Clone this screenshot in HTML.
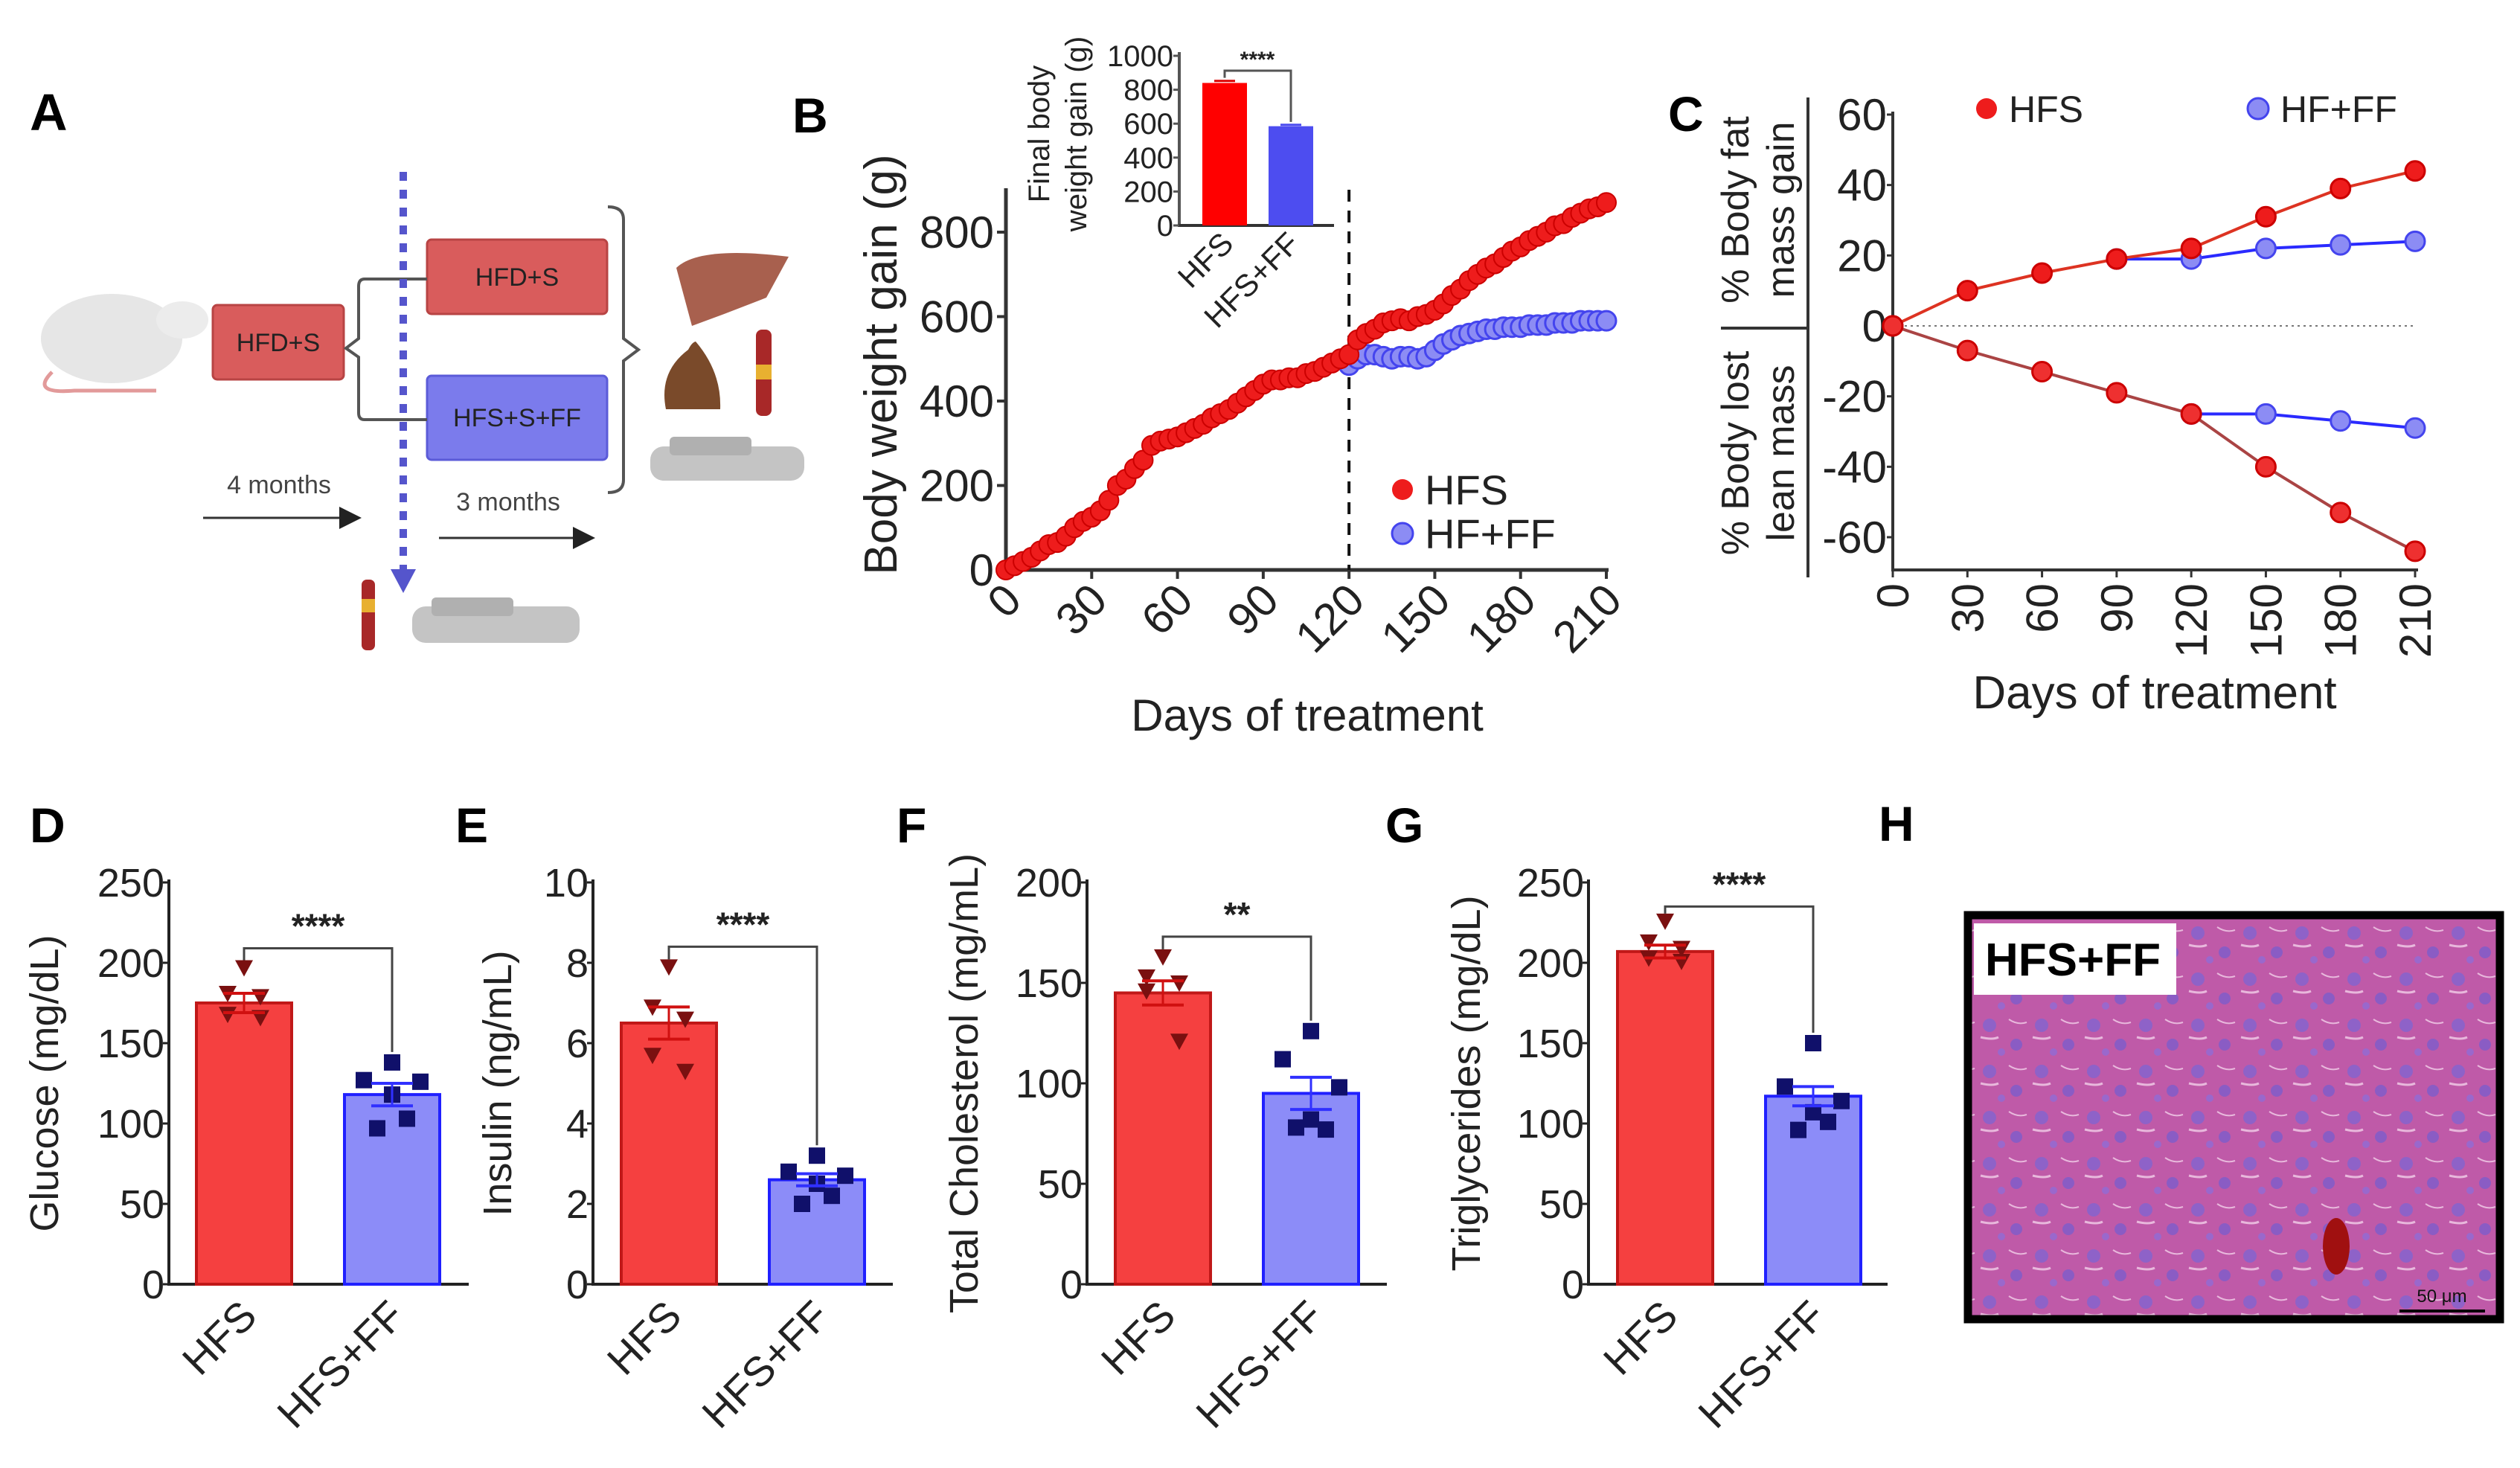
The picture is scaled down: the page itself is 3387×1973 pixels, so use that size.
<!DOCTYPE html>
<html><head><meta charset="utf-8"><style>
html,body{margin:0;padding:0;background:#fff;}
svg{display:block;font-family:"Liberation Sans",Arial,sans-serif;}
</style></head><body>
<svg id="fig" width="3387" height="1973" viewBox="0 0 3387 1973" xmlns="http://www.w3.org/2000/svg">
<defs>
<pattern id="histo" width="70" height="62" patternUnits="userSpaceOnUse">
<rect width="70" height="62" fill="#bf5aa8"/>
<circle cx="14" cy="14" r="9" fill="#8e62c8"/>
<circle cx="50" cy="40" r="8" fill="#8a5cc4"/>
<circle cx="30" cy="50" r="5" fill="#9a68cc"/>
<path d="M2 30 Q18 34 26 30" stroke="#e8b8dc" stroke-width="3" fill="none"/>
<path d="M40 6 Q52 14 64 10" stroke="#e8b8dc" stroke-width="2" fill="none"/>
</pattern>
<marker id="arr" markerWidth="10" markerHeight="10" refX="8" refY="5" orient="auto"><path d="M0 0 L10 5 L0 10z" fill="#222"/></marker>
</defs>

<!-- Panel A schematic -->
<g>
<text x="40" y="175" font-size="70" font-weight="bold">A</text>
<g>
<ellipse cx="150" cy="455" rx="95" ry="60" fill="#e6e6e6"/>
<ellipse cx="245" cy="430" rx="35" ry="25" fill="#ececec"/>
<path d="M70 500 Q40 530 100 525 L210 525" stroke="#e29a9a" stroke-width="5" fill="none"/>
</g>
<rect x="286" y="410" width="176" height="100" rx="6" fill="#d95c5c" stroke="#b84444" stroke-width="3"/>
<text x="374" y="472" font-size="34" text-anchor="middle" fill="#222">HFD+S</text>
<rect x="574" y="322" width="242" height="100" rx="6" fill="#d95c5c" stroke="#b84444" stroke-width="3"/>
<text x="695" y="384" font-size="34" text-anchor="middle" fill="#222">HFD+S</text>
<rect x="574" y="505" width="242" height="113" rx="6" fill="#7b7bec" stroke="#5b5bd8" stroke-width="3"/>
<text x="695" y="573" font-size="34" text-anchor="middle" fill="#222">HFS+S+FF</text>
<path d="M574 375 L490 375 Q482 375 482 385 L482 455 L465 468 L482 480 L482 555 Q482 564 490 564 L574 564" stroke="#555" stroke-width="4" fill="none"/>
<path d="M817 278 Q838 278 838 295 L838 455 L858 470 L838 485 L838 645 Q838 662 817 662" stroke="#555" stroke-width="4" fill="none"/>
<line x1="542" y1="231" x2="542" y2="770" stroke="#5555cc" stroke-width="10" stroke-dasharray="12 12"/>
<path d="M525 765 L559 765 L542 797z" fill="#5555cc"/>
<text x="375" y="663" font-size="34" text-anchor="middle" fill="#444">4 months</text>
<line x1="273" y1="696" x2="480" y2="696" stroke="#333" stroke-width="3" marker-end="url(#arr)"/>
<text x="683" y="686" font-size="34" text-anchor="middle" fill="#444">3 months</text>
<line x1="590" y1="723" x2="794" y2="723" stroke="#333" stroke-width="3" marker-end="url(#arr)"/>
<path d="M909 360 Q940 330 1060 345 L1030 400 Q980 420 930 438z" fill="#a8604e"/>
<path d="M895 550 Q885 500 925 470 Q930 460 935 459 Q970 500 968 550z" fill="#7a4a2a"/>
<rect x="1016" y="443" width="21" height="116" rx="8" fill="#a82828"/>
<rect x="1016" y="490" width="21" height="20" fill="#e8b030"/>
<rect x="874" y="600" width="207" height="46" rx="18" fill="#c4c4c4"/>
<rect x="900" y="587" width="110" height="25" rx="6" fill="#b0b0b0"/>
<rect x="486" y="779" width="18" height="95" rx="7" fill="#a82828"/>
<rect x="486" y="805" width="18" height="18" fill="#e8b030"/>
<rect x="554" y="815" width="225" height="49" rx="18" fill="#c4c4c4"/>
<rect x="580" y="803" width="110" height="25" rx="6" fill="#b0b0b0"/>
</g>

<g id="pB"></g>
<g id="pC"></g>
<g id="pD"></g>
<g id="pE"></g>
<g id="pF"></g>
<g id="pG"></g>

<!-- Panel H -->
<g>
<text x="2525" y="1130" font-size="66" font-weight="bold">H</text>
<rect x="2645" y="1230" width="715" height="543" fill="url(#histo)" stroke="#000" stroke-width="11"/>
<ellipse cx="3140" cy="1675" rx="18" ry="38" fill="#a01010"/>
<rect x="2653" y="1241" width="272" height="96" fill="#fff"/>
<text x="2668" y="1311" font-size="62" font-weight="bold">HFS+FF</text>
<line x1="3225" y1="1762" x2="3340" y2="1762" stroke="#000" stroke-width="4"/>
<text x="3282" y="1750" font-size="24" text-anchor="middle" fill="#111">50 μm</text>
</g>
</svg>

<script>
// ---------- Panel B data ----------
const bDays = [0,3,6,9,12,15,18,21,24,27,30,33,36,39,42,45,48,51,54,57,60,63,66,69,72,75,78,81,84,87,90,93,96,99,102,105,108,111,114,117,120,123,126,129,132,135,138,141,144,147,150,153,156,159,162,165,168,171,174,177,180,183,186,189,192,195,198,201,204,207,210];
const bHFS = [0,10,20,30,45,60,65,80,100,115,125,140,165,200,215,240,260,295,305,310,315,325,335,345,360,370,380,395,410,425,440,450,450,455,455,465,470,480,490,500,510,545,560,570,585,590,595,590,600,605,615,630,650,665,685,700,715,725,740,755,765,780,790,800,815,820,835,845,855,860,870];
const bFFDays = [120,123,126,129,132,135,138,141,144,147,150,153,156,159,162,165,168,171,174,177,180,183,186,189,192,195,198,201,204,207,210];
const bFF = [485,500,510,510,505,500,505,505,500,505,520,535,545,555,560,565,570,570,575,575,575,580,580,580,585,585,585,590,590,590,590];
const bYTicks = [0,200,400,600,800];
const bXTicks = [0,30,60,90,120,150,180,210];
const insetCats = ['HFS','HFS+FF'];
const insetVals = [840,585];
const insetErr = [12,8];
const insetTicks = [0,200,400,600,800,1000];

// ---------- Panel C data ----------
const cDays = [0,30,60,90,120,150,180,210];
const cFatHFS = [0,10,15,19,22,31,39,44];
const cFatFFDays = [90,120,150,180,210];
const cFatFF = [19,19,22,23,24];
const cLeanHFS = [0,-7,-13,-19,-25,-40,-53,-64];
const cLeanFFDays = [120,150,180,210];
const cLeanFF = [-25,-25,-27,-29];
const cYTicks = [-60,-40,-20,0,20,40,60];

// ---------- Bar panels data ----------
const barCats = ['HFS','HFS+FF'];
const dMeans = [175,118];
const dSem = [6,7];
const dHFSPts = [197,181,179,168,166];
const dFFPts = [138,127,126,118,103,97];
const dTicks = [0,50,100,150,200,250];
const eMeans = [6.5,2.6];
const eSem = [0.4,0.15];
const eHFSPts = [7.9,6.9,6.6,5.7,5.3];
const eFFPts = [3.2,2.8,2.7,2.5,2.2,2.0];
const eTicks = [0,2,4,6,8,10];
const fMeans = [145,95];
const fSem = [6,8];
const fHFSPts = [163,153,150,146,121];
const fFFPts = [126,112,98,82,77,78];
const fTicks = [0,50,100,150,200];
const gMeans = [207,117];
const gSem = [4,6];
const gHFSPts = [226,213,209,203,201];
const gFFPts = [150,123,114,107,101,96];
const gTicks = [0,50,100,150,200,250];

const NS='http://www.w3.org/2000/svg';
function mk(parent, tag, attrs, name, inter){
  const el=document.createElementNS(NS,tag);
  for(const k in attrs) el.setAttribute(k,attrs[k]);
  
  
  parent.appendChild(el);
  return el;
}
function txt(parent, x, y, s, size, name, extra){
  const a={x:x,y:y,'font-size':size,fill:'#222'};
  if(extra) for(const k in extra) a[k]=extra[k];
  const t=mk(parent,'text',a,name,false);
  t.textContent=s;
  return t;
}
function lin(d0,d1,r0,r1){return v=>r0+(v-d0)/(d1-d0)*(r1-r0);}

// ---------- Panel B ----------
(function(){
  const g=document.getElementById('pB');
  const x=lin(0,210,1352,2159), y=lin(0,800,766,312);
  txt(g,1065,178,'B',66,'panel-b-label',{'font-weight':'bold',fill:'#000'});
  mk(g,'line',{x1:1352,y1:253,x2:1352,y2:768,stroke:'#333','stroke-width':5},'y-axis',false);
  mk(g,'line',{x1:1350,y1:766,x2:2162,y2:766,stroke:'#333','stroke-width':5},'x-axis',false);
  bYTicks.forEach(v=>{
    mk(g,'line',{x1:1340,y1:y(v),x2:1352,y2:y(v),stroke:'#333','stroke-width':4},'y-tick',false);
    txt(g,1336,y(v)+21,String(v),60,'y-tick-label',{'text-anchor':'end'});
  });
  bXTicks.forEach(v=>{
    mk(g,'line',{x1:x(v),y1:766,x2:x(v),y2:778,stroke:'#333','stroke-width':4},'x-tick',false);
    txt(g,0,0,String(v),60,'x-tick-label',{'text-anchor':'end',transform:`translate(${x(v)+24},${810}) rotate(-45)`});
  });
  txt(g,0,0,'Body weight gain (g)',62,'y-axis-title',{'text-anchor':'middle',transform:`translate(1205,490) rotate(-90)`});
  txt(g,1757,982,'Days of treatment',60,'x-axis-title',{'text-anchor':'middle'});
  mk(g,'line',{x1:x(120),y1:255,x2:x(120),y2:766,stroke:'#111','stroke-width':4,'stroke-dasharray':'16 12'},'treatment-start-line',false);
  bFFDays.forEach((d,i)=>{
    mk(g,'circle',{cx:x(d),cy:y(bFF[i]),r:13,fill:'#8c8cf4',stroke:'#4444ee','stroke-width':3},'point-hf-ff',false);
  });
  let p='';
  bDays.forEach((d,i)=>{p+=(i?'L':'M')+x(d)+' '+y(bHFS[i]);});
  mk(g,'path',{d:p,stroke:'#e00',fill:'none','stroke-width':3},'line-hfs',false);
  bDays.forEach((d,i)=>{
    mk(g,'circle',{cx:x(d),cy:y(bHFS[i]),r:13,fill:'#ee1c1c',stroke:'#c00','stroke-width':2},'point-hfs',false);
  });
  mk(g,'circle',{cx:1885,cy:658,r:14,fill:'#ee1c1c'},'legend-marker-hfs',false);
  txt(g,1915,678,'HFS',56,'legend-label-hfs');
  mk(g,'circle',{cx:1885,cy:717,r:14,fill:'#8c8cf4',stroke:'#4444ee','stroke-width':3},'legend-marker-hf-ff',false);
  txt(g,1915,737,'HF+FF',56,'legend-label-hf-ff');
  // inset
  const iy=lin(0,1000,303,75);
  const ix=[1646,1735];
  mk(g,'line',{x1:1585,y1:70,x2:1585,y2:305,stroke:'#555','stroke-width':4},'inset-y-axis',false);
  mk(g,'line',{x1:1583,y1:303,x2:1793,y2:303,stroke:'#333','stroke-width':4},'inset-x-axis',false);
  insetTicks.forEach(v=>{
    mk(g,'line',{x1:1577,y1:iy(v),x2:1585,y2:iy(v),stroke:'#555','stroke-width':3},'inset-y-tick',false);
    txt(g,1577,iy(v)+14,String(v),40,'inset-y-tick-label',{'text-anchor':'end'});
  });
  insetCats.forEach((c,i)=>{
    mk(g,'rect',{x:ix[i]-30,y:iy(insetVals[i]),width:60,height:iy(0)-iy(insetVals[i]),fill:i?'#4d4df0':'#f00'},'inset-bar-'+(i?'hfs-ff':'hfs'),false);
    mk(g,'line',{x1:ix[i]-14,y1:iy(insetVals[i]+insetErr[i]),x2:ix[i]+14,y2:iy(insetVals[i]+insetErr[i]),stroke:i?'#4d4df0':'#d00','stroke-width':3},'inset-error-bar',false);
    txt(g,0,0,c,42,'inset-x-label',{'text-anchor':'end',transform:`translate(${ix[i]+14},${330}) rotate(-45)`});
  });
  mk(g,'path',{d:`M${ix[0]} ${iy(870)} L${ix[0]} 95 L${ix[1]} 95 L${ix[1]} ${iy(610)}`,stroke:'#555',fill:'none','stroke-width':3},'inset-significance-bracket',false);
  txt(g,1690,90,'****',30,'inset-significance-stars',{'text-anchor':'middle','font-weight':'bold'});
  txt(g,0,0,'Final body',40,'inset-y-title-line1',{'text-anchor':'middle',transform:'translate(1410,180) rotate(-90)'});
  txt(g,0,0,'weight gain (g)',40,'inset-y-title-line2',{'text-anchor':'middle',transform:'translate(1460,180) rotate(-90)'});
})();

// ---------- Panel C ----------
(function(){
  const g=document.getElementById('pC');
  const x=lin(0,210,2544,3246), y=lin(0,60,438,154);
  txt(g,2242,176,'C',66,'panel-c-label',{'font-weight':'bold',fill:'#000'});
  mk(g,'line',{x1:2544,y1:150,x2:2544,y2:768,stroke:'#333','stroke-width':4},'y-axis',false);
  mk(g,'line',{x1:2542,y1:766,x2:3250,y2:766,stroke:'#333','stroke-width':4},'x-axis',false);
  mk(g,'line',{x1:2430,y1:131,x2:2430,y2:776,stroke:'#333','stroke-width':4},'group-divider-vertical',false);
  mk(g,'line',{x1:2313,y1:441,x2:2430,y2:441,stroke:'#333','stroke-width':4},'group-divider-horizontal',false);
  mk(g,'line',{x1:2544,y1:y(0),x2:3246,y2:y(0),stroke:'#777','stroke-width':2,'stroke-dasharray':'3 5'},'zero-reference-line',false);
  cYTicks.forEach(v=>{
    mk(g,'line',{x1:2536,y1:y(v),x2:2544,y2:y(v),stroke:'#333','stroke-width':3},'y-tick',false);
    txt(g,2536,y(v)+21,String(v),60,'y-tick-label',{'text-anchor':'end'});
  });
  cDays.forEach(v=>{
    mk(g,'line',{x1:x(v),y1:766,x2:x(v),y2:776,stroke:'#333','stroke-width':3},'x-tick',false);
    txt(g,0,0,String(v),60,'x-tick-label',{'text-anchor':'end',transform:`translate(${x(v)+21},${784}) rotate(-90)`});
  });
  txt(g,2896,952,'Days of treatment',62,'x-axis-title',{'text-anchor':'middle'});
  txt(g,0,0,'% Body fat',52,'y-title-fat-line1',{'text-anchor':'middle',transform:'translate(2350,282) rotate(-90)'});
  txt(g,0,0,'mass gain',52,'y-title-fat-line2',{'text-anchor':'middle',transform:'translate(2411,282) rotate(-90)'});
  txt(g,0,0,'% Body lost',52,'y-title-lean-line1',{'text-anchor':'middle',transform:'translate(2350,609) rotate(-90)'});
  txt(g,0,0,'lean mass',52,'y-title-lean-line2',{'text-anchor':'middle',transform:'translate(2411,609) rotate(-90)'});
  function series(days,vals,col,fill,stroke,name){
    let p='';days.forEach((d,i)=>{p+=(i?'L':'M')+x(d)+' '+y(vals[i]);});
    mk(g,'path',{d:p,stroke:col,fill:'none','stroke-width':4},'line-'+name,false);
    days.forEach((d,i)=>{
      mk(g,'circle',{cx:x(d),cy:y(vals[i]),r:13,fill:fill,stroke:stroke,'stroke-width':3},'point-'+name,false);
    });
  }
  series(cFatFFDays,cFatFF,'#2a2aff','#8c8cf4','#4444ee','fat-hf-ff');
  series(cLeanFFDays,cLeanFF,'#2a2aff','#8c8cf4','#4444ee','lean-hf-ff');
  series(cDays,cFatHFS,'#d32','#ee1c1c','#c00','fat-hfs');
  series(cDays,cLeanHFS,'#a44','#ee3030','#c00','lean-hfs');
  mk(g,'circle',{cx:2670,cy:146,r:14,fill:'#ee1c1c'},'legend-marker-hfs',false);
  txt(g,2700,164,'HFS',50,'legend-label-hfs');
  mk(g,'circle',{cx:3035,cy:146,r:14,fill:'#8c8cf4',stroke:'#4444ee','stroke-width':3},'legend-marker-hf-ff',false);
  txt(g,3065,164,'HF+FF',50,'legend-label-hf-ff');
})();

// ---------- Bar panels ----------
function barPanel(id,letter,lx,ax,xEnd,bx,ticks,means,sem,p1,p2,title,titleX,bracketV,stars){
  const g=document.getElementById(id);
  const y=lin(0,ticks[ticks.length-1],1726,1186);
  txt(g,lx,1132,letter,66,'panel-label',{'font-weight':'bold',fill:'#000'});
  mk(g,'line',{x1:ax,y1:1182,x2:ax,y2:1728,stroke:'#222','stroke-width':4},'y-axis',false);
  mk(g,'line',{x1:ax-2,y1:1726,x2:xEnd,y2:1726,stroke:'#222','stroke-width':4},'x-axis',false);
  ticks.forEach(v=>{
    mk(g,'line',{x1:ax-8,y1:y(v),x2:ax,y2:y(v),stroke:'#222','stroke-width':3},'y-tick',false);
    txt(g,ax-6,y(v)+19,String(v),54,'y-tick-label',{'text-anchor':'end'});
  });
  txt(g,0,0,title,54,'y-axis-title',{'text-anchor':'middle',transform:`translate(${titleX},1456) rotate(-90)`});
  const cols=[['#f54040','#c01818'],['#8c8cf8','#2020ff']];
  barCats.forEach((c,i)=>{
    const cx=bx[i];
    mk(g,'rect',{x:cx-64,y:y(means[i]),width:128,height:1726-y(means[i]),fill:cols[i][0],stroke:cols[i][1],'stroke-width':4},'bar-'+(i?'hfs-ff':'hfs'),false);
    txt(g,0,0,c,56,'x-tick-label',{'text-anchor':'end',transform:`translate(${cx+20},${1772}) rotate(-45)`});
  });
  const pts=[p1,p2];
  pts.forEach((arr,i)=>{
    const cx=bx[i];
    const offs=arr.length===5?[0,-22,22,-22,22]:[0,-38,38,0,20,-20];
    arr.forEach((v,j)=>{
      if(i===0){
        mk(g,'path',{d:`M${cx+offs[j]-12} ${y(v)-10} L${cx+offs[j]+12} ${y(v)-10} L${cx+offs[j]} ${y(v)+12}z`,fill:'#7a1010'},'point-hfs',false);
      }else{
        mk(g,'rect',{x:cx+offs[j]-11,y:y(v)-11,width:22,height:22,fill:'#10106a'},'point-hfs-ff',false);
      }
    });
    const c=i?'#3030ff':'#d01010';
    mk(g,'line',{x1:cx,y1:y(means[i]-sem[i]),x2:cx,y2:y(means[i]+sem[i]),stroke:c,'stroke-width':3},'error-bar',false);
    mk(g,'line',{x1:cx-28,y1:y(means[i]+sem[i]),x2:cx+28,y2:y(means[i]+sem[i]),stroke:c,'stroke-width':4},'error-cap-upper',false);
    mk(g,'line',{x1:cx-28,y1:y(means[i]-sem[i]),x2:cx+28,y2:y(means[i]-sem[i]),stroke:c,'stroke-width':4},'error-cap-lower',false);
  });
  const by=y(bracketV);
  mk(g,'path',{d:`M${bx[0]} ${y(Math.max(...p1))-10} L${bx[0]} ${by} L${bx[1]} ${by} L${bx[1]} ${y(Math.max(...p2))-14}`,stroke:'#444',fill:'none','stroke-width':3},'significance-bracket',false);
  txt(g,(bx[0]+bx[1])/2,by-14,stars,46,'significance-stars',{'text-anchor':'middle','font-weight':'bold'});
}
barPanel('pD','D',40,227,630,[328,527],dTicks,dMeans,dSem,dHFSPts,dFFPts,'Glucose (mg/dL)',78,209,'****');
barPanel('pE','E',612,797,1200,[899,1098],eTicks,eMeans,eSem,eHFSPts,eFFPts,'Insulin (ng/mL)',687,8.4,'****');
barPanel('pF','F',1205,1461,1864,[1563,1762],fTicks,fMeans,fSem,fHFSPts,fFFPts,'Total Cholesterol (mg/mL)',1314,173,'**');
barPanel('pG','G',1862,2135,2537,[2238,2437],gTicks,gMeans,gSem,gHFSPts,gFFPts,'Triglycerides (mg/dL)',1989,235,'****');
</script>
</body></html>
